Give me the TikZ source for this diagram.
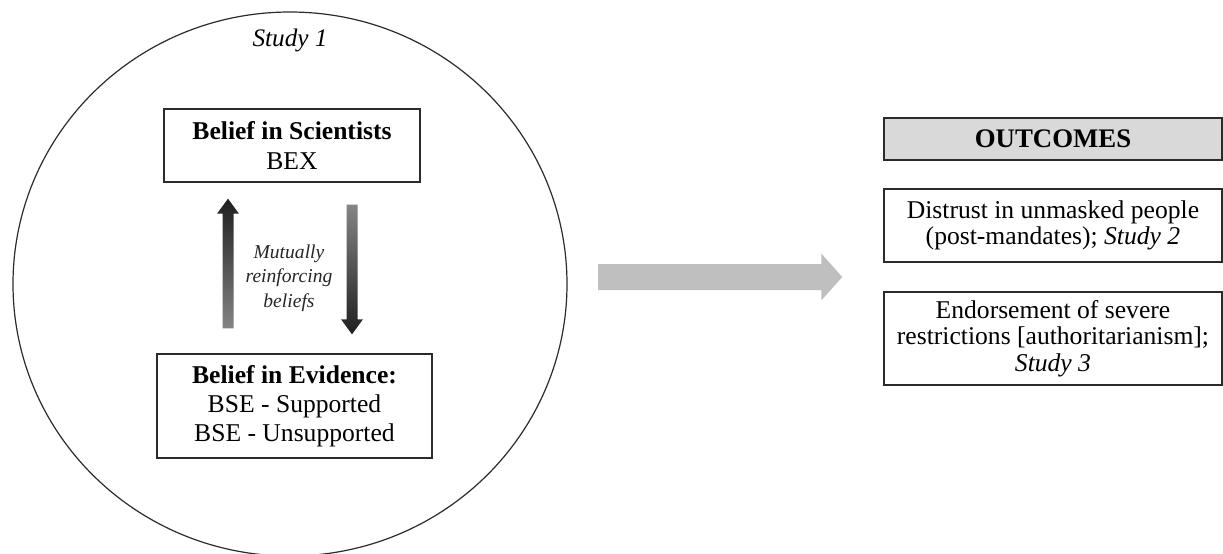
\documentclass[tikz,border=0pt]{standalone}
\usepackage{fontspec}
\setmainfont{Liberation Serif}
\usetikzlibrary{calc}
\definecolor{boxgray}{HTML}{D9D9D9}
\definecolor{arrowgray}{HTML}{BFBFBF}
\definecolor{linecol}{HTML}{2B2B2B}
\begin{document}
\begin{tikzpicture}[x=0.5pt,y=-0.5pt,
  box/.style={draw=linecol, line width=0.7pt, align=center, inner sep=0pt,
    font=\fontsize{12.8}{14.6}\selectfont},
  obox/.style={box, minimum width=169pt, font=\fontsize{12.8}{13.2}\selectfont},
  upshade/.style={top color=black!88, bottom color=black!48},
  downshade/.style={top color=black!48, bottom color=black!88},
]
\useasboundingbox (0,0) rectangle (1223,553);
\begin{scope}
\clip (0,0) rectangle (1223,553);
\draw[linecol, line width=0.6pt] (290,284) ellipse [x radius=277, y radius=272];
\end{scope}

\node[font=\fontsize{12.6}{14}\selectfont\itshape] (study1) at (290,40) {Study 1};

\node[box, minimum width=128pt, minimum height=36.5pt] (bis) at (292,145.5)
  {\textbf{Belief in Scientists}\\BEX};
\node[box, minimum width=137.5pt, minimum height=52pt] (bie) at (294.5,406)
  {\textbf{Belief in Evidence:}\\BSE - Supported\\BSE - Unsupported};

\node[font=\fontsize{9.8}{12.2}\selectfont\itshape, text=black!85, align=center] (mut) at (289,278)
  {Mutually\\reinforcing\\beliefs};

% up arrow
\coordinate (upTip) at ($(bis.south)+(-64,16)$);
\coordinate (upEnd) at ($(bie.north)+(-66.5,-25)$);
\shade[upshade] (upTip) -- ($(upTip)+(11,15)$) -- ($(upTip)+(5.5,15)$) -- ($(upEnd)+(5.5,0)$)
  -- ($(upEnd)+(-5.5,0)$) -- ($(upTip)+(-5.5,15)$) -- ($(upTip)+(-11,15)$) -- cycle;
% down arrow
\coordinate (dnStart) at ($(bis.south)+(60,22)$);
\coordinate (dnTip) at ($(bie.north)+(57.5,-19)$);
\shade[downshade] (dnTip) -- ($(dnTip)+(11,-15)$) -- ($(dnTip)+(5.5,-15)$) -- ($(dnStart)+(5.5,0)$)
  -- ($(dnStart)+(-5.5,0)$) -- ($(dnTip)+(-5.5,-15)$) -- ($(dnTip)+(-11,-15)$) -- cycle;

% outcomes
\node[obox, fill=boxgray, minimum height=21pt, font=\fontsize{13.4}{14}\selectfont\bfseries] (out) at (1053,139) {OUTCOMES};
\node[obox, minimum height=36.5pt] (o2) at (1053,225.5)
  {Distrust in unmasked people\\(post-mandates); \textit{Study 2}};
\node[obox, minimum height=46.5pt] (o3) at (1053,338.5)
  {Endorsement of severe\\restrictions [authoritarianism];\\\textit{Study 3}};

% big arrow
\coordinate (bigS) at (598,277);
\coordinate (bigT) at ($(o2.west)!0.5!(o3.west)+(-41,-5)$);
\fill[arrowgray] (bigS) ++(0,-13) -- ($(bigT)+(-21,-13)$) -- ($(bigT)+(-21,-23.5)$) -- (bigT)
  -- ($(bigT)+(-21,23.5)$) -- ($(bigT)+(-21,13)$) -- ($(bigS)+(0,13)$) -- cycle;
\end{tikzpicture}
\end{document}
